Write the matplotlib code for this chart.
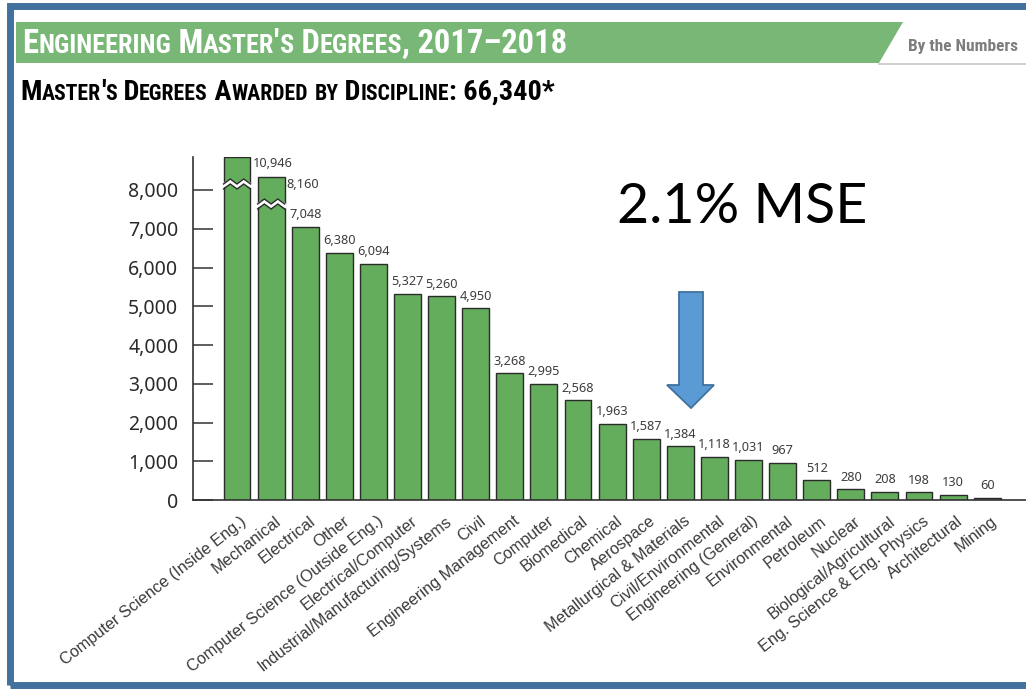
import numpy as np
import matplotlib
matplotlib.use("Agg")
import matplotlib.pyplot as plt
from matplotlib.patches import Rectangle, Polygon
from matplotlib.lines import Line2D
from matplotlib.ticker import FixedLocator, FuncFormatter, NullLocator
from matplotlib.transforms import ScaledTranslation

# ---- data -------------------------------------------------------------
disciplines = [
    "Computer Science (Inside Eng.)", "Mechanical", "Electrical", "Other",
    "Computer Science (Outside Eng.)", "Electrical/Computer",
    "Industrial/Manufacturing/Systems", "Civil", "Engineering Management",
    "Computer", "Biomedical", "Chemical", "Aerospace",
    "Metallurgical & Materials", "Civil/Environmental", "Engineering (General)",
    "Environmental", "Petroleum", "Nuclear", "Biological/Agricultural",
    "Eng. Science & Eng. Physics", "Architectural", "Mining",
]
degrees = [10946, 8160, 7048, 6380, 6094, 5327, 5260, 4950, 3268, 2995, 2568,
           1963, 1587, 1384, 1118, 1031, 967, 512, 280, 208, 198, 130, 60]
y_ticks = [0, 1000, 2000, 3000, 4000, 5000, 6000, 7000, 8000]

title_text = "Engineering Master's Degrees, 2017\u20132018"
subtitle_text = "Master's Degrees Awarded by Discipline: 66,340*"
callout_text = "2.1% MSE"

# ---- figure -----------------------------------------------------------
W, H = 1026, 689
fig = plt.figure(figsize=(W / 100, H / 100), dpi=100)
fig.patch.set_facecolor("white")


def fx(px):
    return px / W


def fy(py):
    return 1 - py / H


# values above the top tick are squeezed into a short band (axis break)
BREAK = 8000.0
SQ_A, SQ_B = 852.0, 320.0


def squash(v):
    v = np.asarray(v, dtype=float)
    ex = np.maximum(v - BREAK, 0.0)
    return np.minimum(v, BREAK) + SQ_A * (1 - np.exp(-ex / SQ_B))


def unsquash(d):
    d = np.asarray(d, dtype=float)
    ex = np.clip(d - BREAK, 0.0, SQ_A * 0.999999)
    return np.minimum(d, BREAK) - SQ_B * np.log(1 - ex / SQ_A)


px_per_unit = 310.0 / 8000.0
top_disp = float(squash(11500))
ax_left, ax_right, ax_bottom = 193, 1026, 500
ax_top = ax_bottom - top_disp * px_per_unit
ax = fig.add_axes([fx(ax_left), fy(ax_bottom), fx(ax_right - ax_left),
                   (ax_bottom - ax_top) / H])
ax.set_yscale("function", functions=(squash, unsquash))
ax.set_ylim(0, 11500)

x = np.arange(len(degrees))
bar_w = 0.79
spacing_px = 34.1
ax.set_xlim(-(237 - ax_left) / spacing_px,
            -(237 - ax_left) / spacing_px + (ax_right - ax_left) / spacing_px)

bar_color = "#63ad5c"
edge_color = "#2b2b2b"
ax.bar(x, degrees, width=bar_w, color=bar_color, edgecolor=edge_color,
       linewidth=1.0, zorder=2)

# spines / ticks
for s in ("top", "right"):
    ax.spines[s].set_visible(False)
for s in ("left", "bottom"):
    ax.spines[s].set_color("#333333")
    ax.spines[s].set_linewidth(1.2)
ax.yaxis.set_major_locator(FixedLocator(y_ticks))
ax.yaxis.set_minor_locator(NullLocator())
ax.yaxis.set_major_formatter(FuncFormatter(lambda v, p: f"{v:,.0f}"))
ax.tick_params(axis="y", direction="in", length=14.4, width=1.1,
               color="#333333", pad=10.5, labelsize=14, labelcolor="#2a2a2a")
for lab in ax.get_yticklabels():
    lab.set_family(["Noto Sans", "DejaVu Sans"])

ax.set_xticks(x)
ax.set_xticklabels(disciplines, rotation=38, ha="right", va="center",
                   rotation_mode="anchor", fontsize=11.7, color="#3a3a3a",
                   family=["Liberation Sans", "DejaVu Sans"])
ax.tick_params(axis="x", length=0, pad=14)
shift = ScaledTranslation(8 / 100, 0, fig.dpi_scale_trans)
for lab in ax.get_xticklabels():
    lab.set_transform(lab.get_transform() + shift)

# value labels and break marks
label_kw = dict(fontsize=9.2, color="#3d3d3d", family=["Noto Sans", "DejaVu Sans"])
inv = ax.transData.inverted()
for xi, v in zip(x, degrees):
    if v > BREAK:
        ax.annotate(f"{v:,}", xy=(xi + bar_w / 2, v), xytext=(2, -7),
                    textcoords="offset pixels", ha="left", va="center",
                    **label_kw)
        # zigzag cut across the bar
        xl = ax.transData.transform((xi - bar_w / 2, v))[0]
        xr = ax.transData.transform((xi + bar_w / 2, v))[0]
        ytop = ax.transData.transform((xi, v))[1]
        yc = ytop - 27
        xs = np.linspace(xl, xr, 5)
        wig = np.array([-2.5, 2.5, -2.5, 2.5, -2.5])
        up = yc + 2.5 + wig
        lo = yc - 2.5 + wig
        xs_fill = xs.copy()
        xs_fill[0] -= 2
        xs_fill[-1] += 2
        poly = np.vstack([np.column_stack([xs_fill, up]),
                          np.column_stack([xs_fill[::-1], lo[::-1]])])
        ax.add_patch(Polygon(inv.transform(poly), closed=True, facecolor="white",
                             edgecolor="none", zorder=3, clip_on=False))
        for yy in (up, lo):
            pts = inv.transform(np.column_stack([xs, yy]))
            ax.plot(pts[:, 0], pts[:, 1], color=edge_color, lw=1.0, zorder=4,
                    clip_on=False, solid_joinstyle="miter")
    else:
        ax.annotate(f"{v:,}", xy=(xi, v), xytext=(0, 4),
                    textcoords="offset points", ha="center", va="bottom",
                    **label_kw)

# ---- header -----------------------------------------------------------
banner = Polygon([(fx(16), fy(22)), (fx(903), fy(22)), (fx(879), fy(63)),
                  (fx(16), fy(63))], closed=True, transform=fig.transFigure,
                 facecolor="#79b776", edgecolor="none")
fig.add_artist(banner)
fig.add_artist(Line2D([fx(879), fx(1026)], [fy(64), fy(64)],
                      transform=fig.transFigure, color="#c8c8c8", lw=1.2))
fig.text(fx(908), fy(47), "By the Numbers", fontsize=12.4, weight="bold",
         color="#7d7d7d", va="center", ha="left",
         family=["Liberation Sans Narrow", "Roboto Condensed", "Liberation Sans"])

cond_fonts = ["Roboto Condensed", "Liberation Sans Narrow", "Open Sans",
              "DejaVu Sans"]


def small_caps(x_px, base_px, text, size, target_w, color, ratio=0.8):
    """Draw text in small caps, fitted to a target width in pixels."""
    runs = []
    for ch in text:
        big = not ch.islower()
        if runs and runs[-1][1] == big:
            runs[-1][0] += ch.upper()
        else:
            runs.append([ch.upper(), big])
    renderer = fig.canvas.get_renderer()

    def draw(sz):
        arts = []
        xp = x_px
        for s, big in runs:
            t = fig.text(fx(xp), fy(base_px), s, fontsize=sz if big else sz * ratio,
                         weight="bold", color=color, va="baseline", ha="left",
                         family=cond_fonts)
            w = t.get_window_extent(renderer).width
            xp += w
            arts.append(t)
        return arts, xp - x_px

    arts, w = draw(size)
    if target_w and abs(w - target_w) > 2:
        for a in arts:
            a.remove()
        draw(size * target_w / w)


small_caps(22, 53, title_text, 17, 548, "white", ratio=0.8)
small_caps(20, 100, subtitle_text, 17, 535, "black", ratio=0.77)

# ---- callout ----------------------------------------------------------
fig.text(fx(617), fy(223), callout_text, fontsize=40, color="black",
         va="baseline", ha="left", family=["Lato", "DejaVu Sans"])
arrow = Polygon([(fx(679), fy(292)), (fx(703), fy(292)), (fx(703), fy(385)),
                 (fx(714), fy(385)), (fx(691), fy(408)), (fx(667), fy(385)),
                 (fx(679), fy(385))], closed=True, transform=fig.transFigure,
                facecolor="#5b9bd5", edgecolor="#41719c", lw=1.3)
fig.add_artist(arrow)

# ---- slide frame ------------------------------------------------------
frame = Rectangle((fx(9.5), fy(685)), fx(1100), 679 / H, transform=fig.transFigure,
                  facecolor="none", edgecolor="#41719c", lw=5.0)
fig.add_artist(frame)

fig.savefig("out.png", dpi=100, facecolor="white")
